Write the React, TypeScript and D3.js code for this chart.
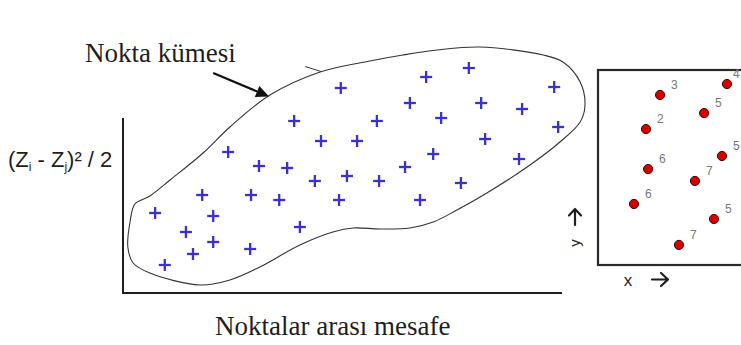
import React from "react";
import * as d3 from "d3";

// Semivariogram cloud: pairs of points (distance vs. half squared difference)
const cloudX = [78.6, 68.9, 49.5, 98.0, 65.2, 81.4, 90.7, 38.9, 57.7, 72.3, 98.9, 45.0, 53.2, 82.3, 23.9, 70.5, 30.9, 37.3, 64.1, 90.0, 43.6, 50.9, 58.2, 76.8, 18.0, 29.1, 35.5, 49.1, 67.5, 7.3, 20.5, 14.3, 20.5, 28.9, 15.9, 9.5, 40.2];
const cloudY = [90.0, 86.4, 82.0, 82.4, 76.0, 76.0, 73.6, 68.8, 68.8, 70.0, 66.4, 60.8, 60.8, 61.6, 56.4, 55.6, 50.8, 50.0, 50.4, 53.6, 44.8, 46.8, 44.8, 44.0, 39.2, 39.2, 37.2, 37.2, 37.2, 32.0, 30.8, 24.4, 20.4, 17.6, 15.6, 11.2, 26.4];

// Hand-drawn envelope around the cloud ("Nokta kümesi")
const hullX = [1.1, 1.6, 2.7, 6.1, 10.7, 18.2, 24.3, 33.4, 44.8, 56.1, 63.6, 71.4, 81.1, 95.5, 100.0, 103.9, 105.0, 103.9, 99.3, 92.5, 82.7, 75.9, 70.5, 65.2, 58.4, 52.3, 47.7, 40.2, 31.1, 24.3, 17.5, 6.1, 2.3];
const hullY = [18.4, 28.4, 35.6, 38.8, 45.2, 56.0, 66.4, 79.2, 88.4, 92.8, 95.2, 97.2, 98.4, 95.2, 92.4, 84.4, 75.2, 68.4, 60.4, 51.2, 40.0, 33.2, 28.4, 26.0, 25.6, 26.0, 24.4, 19.2, 10.4, 5.2, 3.2, 8.0, 12.0];

// Sample locations with their measured values
const siteX = [38.8, 80.6, 66.3, 30.0, 77.5, 31.3, 60.6, 22.5, 72.5, 50.6];
const siteY = [87.2, 92.8, 77.9, 69.7, 55.9, 49.2, 43.1, 31.3, 23.6, 10.3];
const siteValue = ["3", "4", "5", "2", "5", "6", "7", "6", "5", "7"];

const W = 741;
const H = 345;

export default function App() {
  const x = d3.scaleLinear().domain([0, 100]).range([123, 563]);
  const y = d3.scaleLinear().domain([0, 100]).range([293, 43]);

  const px = d3.scaleLinear().domain([0, 100]).range([598, 758]);
  const py = d3.scaleLinear().domain([0, 100]).range([265, 70]);

  const hull = d3
    .line<number>()
    .x((_, i) => x(hullX[i]))
    .y((_, i) => y(hullY[i]))
    .curve(d3.curveCatmullRomClosed.alpha(0.5));

  const plus = 6;
  const ink = "#1e1e1e";
  const serif = "'Liberation Serif', 'Times New Roman', serif";
  const sans = "'Liberation Sans', Arial, sans-serif";

  // Arrow pointing at the envelope
  const a0 = [x(20.5), y(88)];
  const a1 = [x(33.2), y(78.6)];
  const ang = Math.atan2(a1[1] - a0[1], a1[0] - a0[0]);
  const headL = 13;
  const headW = 6;
  const bx = a1[0] - headL * Math.cos(ang);
  const by = a1[1] - headL * Math.sin(ang);
  const head = [
    [a1[0], a1[1]],
    [bx + headW * Math.sin(ang), by - headW * Math.cos(ang)],
    [bx - headW * Math.sin(ang), by + headW * Math.cos(ang)],
  ];

  return (
    <svg
      width={W}
      height={H}
      style={{ position: "absolute", left: 0, top: 0, background: "#fff" }}
    >
      <rect width={W} height={H} fill="#fff" />

      {/* envelope */}
      <path d={hull(hullX) || ""} fill="none" stroke="#333" strokeWidth={1.1} />
      <line x1={x(41.4)} y1={y(90.6)} x2={x(45.0)} y2={y(88.6)} stroke="#333" strokeWidth={1} />

      {/* cloud of pairs */}
      {cloudX.map((v, i) => (
        <g key={i} stroke="#3b30d4" strokeWidth={2.3}>
          <line x1={x(v) - plus} x2={x(v) + plus} y1={y(cloudY[i])} y2={y(cloudY[i])} />
          <line x1={x(v)} x2={x(v)} y1={y(cloudY[i]) - plus} y2={y(cloudY[i]) + plus} />
        </g>
      ))}

      {/* axes */}
      <line x1={x(0)} x2={x(0)} y1={118} y2={y(0) + 1} stroke={ink} strokeWidth={2} />
      <line x1={x(0) - 1} x2={562} y1={y(0)} y2={y(0)} stroke={ink} strokeWidth={2} />

      <text x={8} y={167} fontFamily={sans} fontSize={22} fill={ink}>
        (Z<tspan fontSize={12} dy={4}>i</tspan>
        <tspan dy={-4}> - Z</tspan>
        <tspan fontSize={12} dy={4}>j</tspan>
        <tspan dy={-4}>)² / 2</tspan>
      </text>

      <text x={215} y={335} fontFamily={serif} fontSize={27} fill={ink}>
        Noktalar arası mesafe
      </text>

      <text x={85} y={62} fontFamily={serif} fontSize={27} fill={ink}>
        Nokta kümesi
      </text>
      <line x1={a0[0]} y1={a0[1]} x2={bx} y2={by} stroke="#111" strokeWidth={2.2} />
      <polygon points={head.map((p) => p.join(",")).join(" ")} fill="#111" />

      {/* sample map */}
      <rect x={px(0)} y={py(100)} width={px(100) - px(0)} height={py(0) - py(100)} fill="none" stroke="#2a2a2a" strokeWidth={2.2} />
      {siteX.map((v, i) => (
        <g key={i}>
          <circle cx={px(v)} cy={py(siteY[i])} r={4.6} fill="#d40000" stroke="#400" strokeWidth={1} />
          <text
            x={Math.min(px(v) + 11, W - 8)}
            y={py(siteY[i]) - 6}
            fontFamily={sans}
            fontSize={12}
            fill="#777"
          >
            {siteValue[i]}
          </text>
        </g>
      ))}

      {/* direction hints for the map axes */}
      <text x={628} y={286} fontFamily={sans} fontSize={17} fill={ink} textAnchor="middle">x</text>
      <g stroke={ink} strokeWidth={2.2} fill="none" strokeLinecap="round" strokeLinejoin="round">
        <path d="M652,279.5 H668 M661,273 L668,279.5 L661,286" />
        <path d="M575,225 V209 M569,215.5 L575,209 L581,215.5" />
      </g>
      <text x={0} y={0} fontFamily={sans} fontSize={15} fill={ink} textAnchor="middle" transform="translate(580,243) rotate(-90)">y</text>
    </svg>
  );
}
